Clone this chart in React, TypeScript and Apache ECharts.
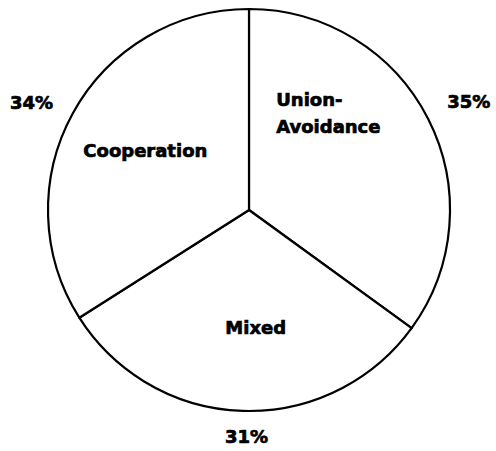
import React, { useEffect, useRef } from "react";
import * as echarts from "echarts";

const categories = ["Union-\nAvoidance", "Mixed", "Cooperation"];
const values = [35, 31, 34];
const percentLabels = ["35%", "31%", "34%"];

// label nudges (style offsets from library-computed anchors)
const nameOffsets = [
  [-65, -50],
  [10, 14],
  [-13, -10],
];
const nameAligns = ["left", "center", "center"];
const pctOffsets = [
  [-2, -9],
  [31, 8],
  [1, -2],
];

export default function App() {
  const ref = useRef<HTMLDivElement>(null);
  useEffect(() => {
    document.body.style.margin = "0";
    const chart = echarts.init(ref.current!, null, { renderer: "svg" });
    const font = {
      fontFamily: "DejaVu Sans",
      fontWeight: "bold" as const,
      fontSize: 18,
      color: "#000",
      textBorderColor: "#000",
      textBorderWidth: 0.7,
      overflow: "none" as const,
    };
    chart.setOption({
      animation: false,
      backgroundColor: "#fff",
      series: [
        {
          type: "pie",
          center: [249, 210],
          radius: [0, 201],
          startAngle: 90,
          clockwise: true,
          silent: true,
          data: categories.map((c, i) => ({ name: c, value: values[i] })),
          itemStyle: { color: "#fff", borderColor: "#000", borderWidth: 2.2 },
          label: {
            show: true,
            position: "inside",
            formatter: "{b}",
            lineHeight: 27,
            ...font,
          },
          labelLine: { show: false },
          labelLayout: (p: any) => ({
            dx: nameOffsets[p.dataIndex][0],
            dy: nameOffsets[p.dataIndex][1],
            align: nameAligns[p.dataIndex],
          }),
        },
        {
          type: "pie",
          center: [249, 210],
          radius: [0, 201],
          startAngle: 90,
          clockwise: true,
          silent: true,
          z: 1,
          data: categories.map((c, i) => ({ name: percentLabels[i], value: values[i] })),
          itemStyle: { color: "transparent", borderWidth: 0 },
          label: {
            show: true,
            position: "outside",
            formatter: "{b}",
            edgeDistance: 0,
            ...font,
          },
          labelLine: { show: false, length: 18, length2: 0 },
          labelLayout: (p: any) => ({
            dx: pctOffsets[p.dataIndex][0],
            dy: pctOffsets[p.dataIndex][1],
          }),
        },
      ],
    });
    return () => chart.dispose();
  }, []);
  return <div ref={ref} style={{ width: 496, height: 451 }} />;
}
